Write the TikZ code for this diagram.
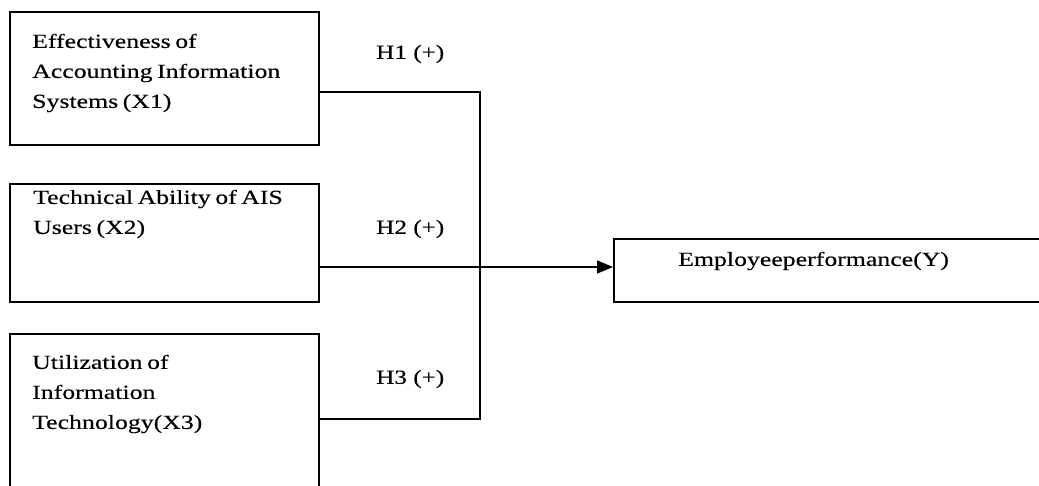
\documentclass[tikz,border=0pt]{standalone}
\usepackage{fontspec}
\setmainfont{Liberation Serif}
\newfontfamily\widefont[FakeStretch=1.29,WordSpace=0.7,FakeBold=0.3]{Liberation Serif}
\newfontfamily\widefonth[FakeStretch=1.26,FakeBold=0.3]{Liberation Serif}
\usetikzlibrary{arrows.meta}
\begin{document}
\begin{tikzpicture}[x=1pt,y=-1pt,
  box/.style={draw,line width=1.6pt,inner sep=0pt,anchor=north west},
  txt/.style={inner sep=0pt,anchor=west,align=left,font=\widefont\fontsize{20}{30}\selectfont},
  hyp/.style={inner sep=0pt,anchor=west,font=\widefonth\fontsize{20}{30}\selectfont},
  conn/.style={line width=1.4pt}]
\useasboundingbox (0,0) rectangle (1039,486);
\clip (0,0) rectangle (1039,486);
\node[box,minimum width=309pt,minimum height=133pt] (b1) at (9,11) {};
\node[box,minimum width=309pt,minimum height=118pt] (b2) at (9,183) {};
\node[box,minimum width=309pt,minimum height=190pt] (b3) at (9,333) {};
\node[box,minimum width=447pt,minimum height=63pt] (y) at (613,238) {};
\node[txt] (t1) at (32,73) {Effectiveness of\\Accounting Information\\Systems (X1)};
\node[txt] (t2) at (33,214) {Technical Ability of AIS\\Users (X2)};
\node[txt] (t3) at (32,394) {Utilization of\\Information\\Technology(X3)};
\node[txt] (ty) at (678,261) {Employeeperformance(Y)};
\node[hyp] (h1) at (376,54) {H1 (+)};
\node[hyp] (h2) at (376,229) {H2 (+)};
\node[hyp] (h3) at (376,379) {H3 (+)};
\coordinate (j1) at (480,92);
\coordinate (jm) at (480,267);
\coordinate (j3) at (480,419);
\draw[conn] (b1.east |- j1) -- (j1) -- (j3) -- (b3.east |- j3);
\draw[conn,-{Triangle[length=16pt,width=13pt]}] (b2.east |- jm) -- (y.west |- jm);
\end{tikzpicture}
\end{document}
